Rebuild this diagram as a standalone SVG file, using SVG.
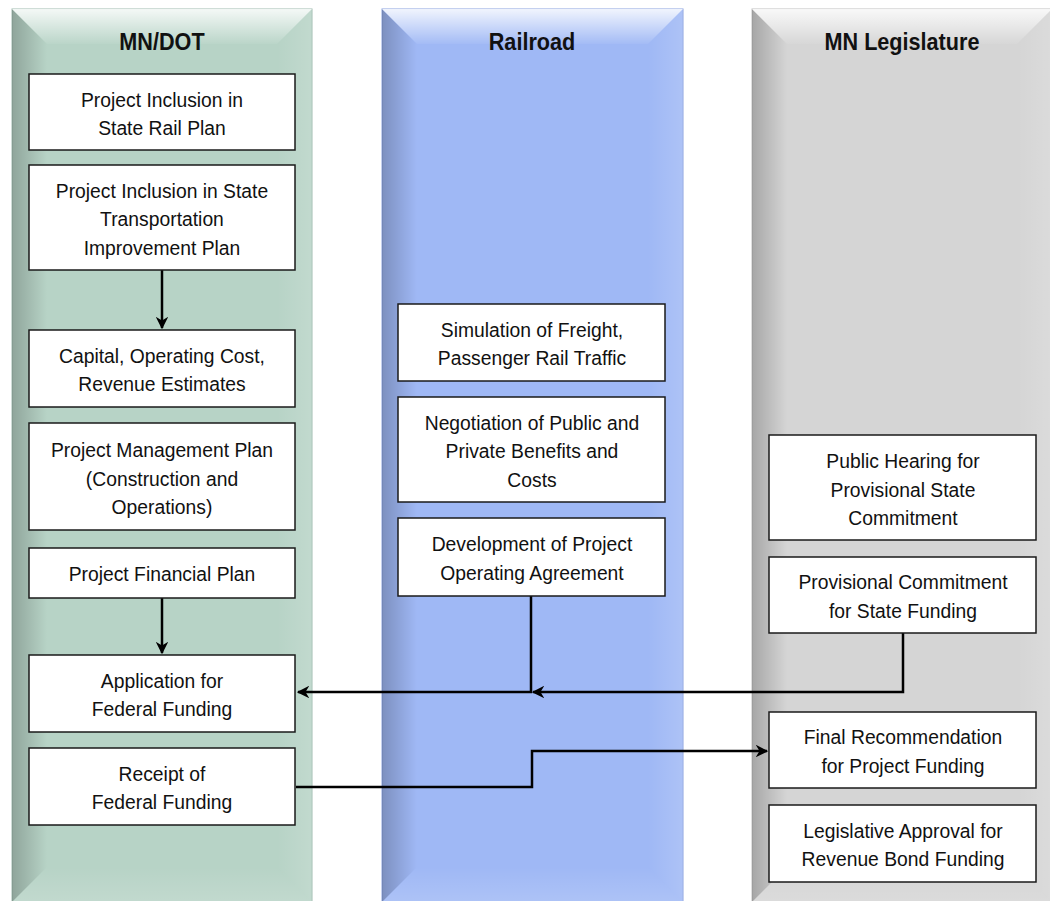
<svg xmlns="http://www.w3.org/2000/svg" width="1050" height="901" viewBox="0 0 1050 901">
<defs>
<style>
.box{fill:#fff;stroke:#1a1a1a;stroke-width:1.5}
.t{font-family:"Liberation Sans",Arial,sans-serif;font-size:21px;fill:#111;text-anchor:middle}
.h{font-family:"Liberation Sans",Arial,sans-serif;font-size:23px;font-weight:bold;fill:#111;text-anchor:middle}
.c{fill:none;stroke:#000;stroke-width:2.5}
</style>
<linearGradient id="gL" x1="0" y1="0" x2="1" y2="0"><stop offset="0" stop-color="#000" stop-opacity="0.22"/><stop offset="1" stop-color="#000" stop-opacity="0"/></linearGradient>
<linearGradient id="gR" x1="0" y1="0" x2="1" y2="0"><stop offset="0" stop-color="#fff" stop-opacity="0"/><stop offset="1" stop-color="#fff" stop-opacity="0.15"/></linearGradient>
<linearGradient id="gT" x1="0" y1="0" x2="0" y2="1"><stop offset="0" stop-color="#fff" stop-opacity="0.85"/><stop offset="1" stop-color="#fff" stop-opacity="0.05"/></linearGradient>
<linearGradient id="gB" x1="0" y1="0" x2="0" y2="1"><stop offset="0" stop-color="#fff" stop-opacity="0"/><stop offset="1" stop-color="#fff" stop-opacity="0.15"/></linearGradient>
<marker id="ah" viewBox="0 0 10 10" refX="9" refY="5" markerWidth="5" markerHeight="5" orient="auto" markerUnits="strokeWidth"><path d="M0,0 L10,5 L0,10 L3,5 Z" fill="#000"/></marker>
</defs>
<rect width="1050" height="901" fill="#fff"/>
<g id="lane-mndot">
<rect x="12" y="9" width="300" height="893" fill="#b7d3c6" stroke="#9fbcb0" stroke-width="1"/>
<polygon points="12,9 47,44 47,867 12,902" fill="url(#gL)"/>
<polygon points="312,9 277,44 277,867 312,902" fill="url(#gR)"/>
<polygon points="12,9 312,9 277,44 47,44" fill="url(#gT)"/>
<polygon points="12,902 47,867 277,867 312,902" fill="url(#gB)"/>
<text class="h" x="162" y="50" transform="matrix(0.94,0,0,1,9.72,0)">MN/DOT</text>
</g>
<g id="lane-railroad">
<rect x="382" y="9" width="301" height="893" fill="#9fb8f5" stroke="#8aa2e0" stroke-width="1"/>
<polygon points="382,9 417,44 417,867 382,902" fill="url(#gL)"/>
<polygon points="683,9 648,44 648,867 683,902" fill="url(#gR)"/>
<polygon points="382,9 683,9 648,44 417,44" fill="url(#gT)"/>
<polygon points="382,902 417,867 648,867 683,902" fill="url(#gB)"/>
<text class="h" x="532" y="50" transform="matrix(0.94,0,0,1,31.92,0)">Railroad</text>
</g>
<g id="lane-legislature">
<rect x="752" y="9" width="300" height="893" fill="#d5d5d5" stroke="#c0c0c0" stroke-width="1"/>
<polygon points="752,9 787,44 787,867 752,902" fill="url(#gL)"/>
<polygon points="1052,9 1017,44 1017,867 1052,902" fill="url(#gR)"/>
<polygon points="752,9 1052,9 1017,44 787,44" fill="url(#gT)"/>
<polygon points="752,902 787,867 1017,867 1052,902" fill="url(#gB)"/>
<text class="h" x="902" y="50" transform="matrix(0.94,0,0,1,54.12,0)">MN Legislature</text>
</g>
<g id="connectors">
<path class="c" d="M162,270 V328" marker-end="url(#ah)"/>
<path class="c" d="M162,598 V653" marker-end="url(#ah)"/>
<path class="c" d="M531,596 V692 H298" marker-end="url(#ah)"/>
<path class="c" d="M903,633 V692 H533" marker-end="url(#ah)"/>
<path class="c" d="M296,787 H532 V751 H767" marker-end="url(#ah)"/>
</g>
<g id="n1"><rect class="box" x="29" y="74" width="266" height="76"/><g transform="matrix(0.92,0,0,1,12.96,0)"><text class="t" x="162" y="107">Project Inclusion in</text><text class="t" x="162" y="135">State Rail Plan</text></g></g>
<g id="n2"><rect class="box" x="29" y="165" width="266" height="105"/><g transform="matrix(0.92,0,0,1,12.96,0)"><text class="t" x="162" y="198">Project Inclusion in State</text><text class="t" x="162" y="226">Transportation</text><text class="t" x="162" y="255">Improvement Plan</text></g></g>
<g id="n3"><rect class="box" x="29" y="330" width="266" height="77"/><g transform="matrix(0.92,0,0,1,12.96,0)"><text class="t" x="162" y="363">Capital, Operating Cost,</text><text class="t" x="162" y="391">Revenue Estimates</text></g></g>
<g id="n4"><rect class="box" x="29" y="423" width="266" height="107"/><g transform="matrix(0.92,0,0,1,12.96,0)"><text class="t" x="162" y="457">Project Management Plan</text><text class="t" x="162" y="486">(Construction and</text><text class="t" x="162" y="514">Operations)</text></g></g>
<g id="n5"><rect class="box" x="29" y="548" width="266" height="50"/><g transform="matrix(0.92,0,0,1,12.96,0)"><text class="t" x="162" y="581">Project Financial Plan</text></g></g>
<g id="n6"><rect class="box" x="29" y="655" width="266" height="77"/><g transform="matrix(0.92,0,0,1,12.96,0)"><text class="t" x="162" y="688">Application for</text><text class="t" x="162" y="716">Federal Funding</text></g></g>
<g id="n7"><rect class="box" x="29" y="748" width="266" height="77"/><g transform="matrix(0.92,0,0,1,12.96,0)"><text class="t" x="162" y="781">Receipt of</text><text class="t" x="162" y="809">Federal Funding</text></g></g>
<g id="r1"><rect class="box" x="398" y="304" width="267" height="77"/><g transform="matrix(0.92,0,0,1,42.56,0)"><text class="t" x="532" y="337">Simulation of Freight,</text><text class="t" x="532" y="365">Passenger Rail Traffic</text></g></g>
<g id="r2"><rect class="box" x="398" y="397" width="267" height="105"/><g transform="matrix(0.92,0,0,1,42.56,0)"><text class="t" x="532" y="430">Negotiation of Public and</text><text class="t" x="532" y="458">Private Benefits and</text><text class="t" x="532" y="487">Costs</text></g></g>
<g id="r3"><rect class="box" x="398" y="518" width="267" height="78"/><g transform="matrix(0.92,0,0,1,42.56,0)"><text class="t" x="532" y="551">Development of Project</text><text class="t" x="532" y="580">Operating Agreement</text></g></g>
<g id="l1"><rect class="box" x="769" y="435" width="267" height="105"/><g transform="matrix(0.92,0,0,1,72.24,0)"><text class="t" x="903" y="468">Public Hearing for</text><text class="t" x="903" y="497">Provisional State</text><text class="t" x="903" y="525">Commitment</text></g></g>
<g id="l2"><rect class="box" x="769" y="557" width="267" height="76"/><g transform="matrix(0.92,0,0,1,72.24,0)"><text class="t" x="903" y="589">Provisional Commitment</text><text class="t" x="903" y="618">for State Funding</text></g></g>
<g id="l3"><rect class="box" x="769" y="712" width="267" height="76"/><g transform="matrix(0.92,0,0,1,72.24,0)"><text class="t" x="903" y="744">Final Recommendation</text><text class="t" x="903" y="773">for Project Funding</text></g></g>
<g id="l4"><rect class="box" x="769" y="805" width="267" height="77"/><g transform="matrix(0.92,0,0,1,72.24,0)"><text class="t" x="903" y="838">Legislative Approval for</text><text class="t" x="903" y="866">Revenue Bond Funding</text></g></g>
</svg>
